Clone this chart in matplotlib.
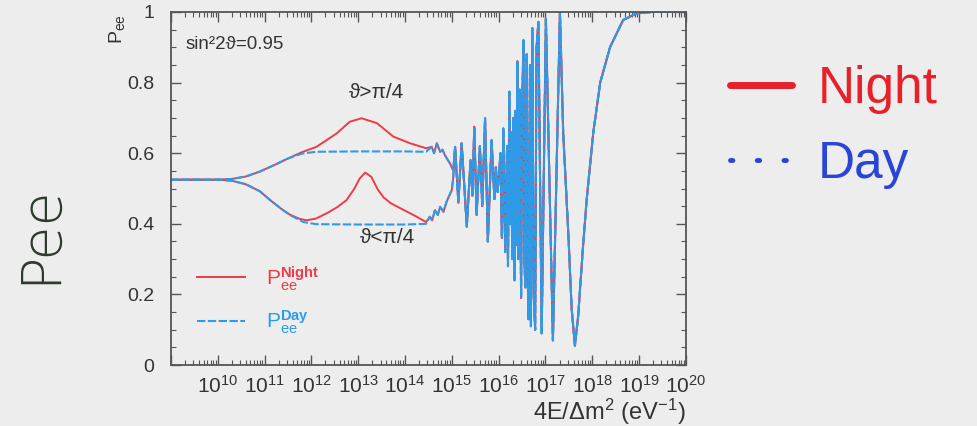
import matplotlib
matplotlib.use("Agg")
import matplotlib.pyplot as plt
import numpy as np
from matplotlib.lines import Line2D
from matplotlib.ticker import LogLocator, MultipleLocator, NullFormatter

plt.rcParams['font.family'] = ['Liberation Sans', 'DejaVu Sans']
plt.rcParams['mathtext.fontset'] = 'custom'
plt.rcParams['mathtext.rm'] = 'Liberation Sans'
plt.rcParams['mathtext.it'] = 'Liberation Sans:italic'
plt.rcParams['mathtext.bf'] = 'Liberation Sans:bold'

# exponents of 4E/dm^2 (eV^-1) and survival probability P_ee
# branch theta > pi/4
up_day_log = [9.0, 10.0, 10.3, 10.6, 10.9, 11.2, 11.5, 11.8, 12.1, 13.0, 14.0, 14.45]
up_day_p = [0.525, 0.525, 0.527, 0.534, 0.548, 0.566, 0.585, 0.599, 0.604, 0.605, 0.605, 0.604]
up_night_log = [9.0, 10.0, 10.3, 10.6, 10.9, 11.2, 11.5, 11.8, 12.11, 12.54, 12.82, 13.07,
                13.4, 13.75, 14.11, 14.45]
up_night_p = [0.525, 0.525, 0.527, 0.534, 0.548, 0.566, 0.585, 0.603, 0.618, 0.656, 0.689, 0.699,
              0.685, 0.647, 0.628, 0.614]
# wiggles where the upper branch joins the common curve
up_join_log = [14.57, 14.62, 14.68, 14.75, 14.80, 14.85, 14.96, 15.03]
up_join_p = [0.618, 0.600, 0.628, 0.604, 0.610, 0.595, 0.571, 0.552]

# branch theta < pi/4
lo_day_log = [9.0, 10.0, 10.3, 10.6, 10.9, 11.12, 11.35, 11.54, 11.83, 12.1, 13.0, 14.0, 14.45]
lo_day_p = [0.525, 0.525, 0.522, 0.512, 0.492, 0.467, 0.443, 0.425, 0.405, 0.399, 0.398, 0.398, 0.400]
lo_night_log = [9.0, 10.0, 10.3, 10.6, 10.9, 11.12, 11.35, 11.54, 11.75, 11.9, 12.1, 12.33, 12.55,
                12.75, 12.92, 13.03, 13.15, 13.28, 13.42, 13.54, 13.7, 13.96, 14.25, 14.45]
lo_night_p = [0.525, 0.525, 0.522, 0.512, 0.492, 0.467, 0.443, 0.426, 0.414, 0.410, 0.415, 0.430, 0.447,
              0.467, 0.500, 0.528, 0.545, 0.533, 0.497, 0.475, 0.458, 0.440, 0.420, 0.405]
lo_join_log = [14.53, 14.58, 14.64, 14.70, 14.75, 14.82, 14.89, 15.00, 15.03]
lo_join_p = [0.420, 0.410, 0.439, 0.425, 0.448, 0.434, 0.463, 0.496, 0.530]

# common oscillating part (same for day and night)
tail_log = [15.07, 15.14, 15.21, 15.32, 15.40, 15.44, 15.48, 15.53, 15.60, 15.65,
            15.71, 15.77, 15.85, 15.91, 15.94, 15.98, 16.04, 16.07, 16.10, 16.14,
            16.18, 16.20, 16.23, 16.25, 16.27, 16.29, 16.31, 16.34, 16.36, 16.38,
            16.40, 16.42, 16.45, 16.48, 16.50, 16.53, 16.55, 16.57, 16.60, 16.62,
            16.64, 16.67, 16.69, 16.72, 16.75, 16.78, 16.81, 16.85, 16.92,
            17.01, 17.16, 17.31, 17.38, 17.49, 17.56, 17.63, 17.70, 17.80, 17.88,
            18.02, 18.17, 18.38, 18.66, 18.95, 19.3, 20.0]
tail_p = [0.618, 0.46, 0.628, 0.392, 0.58, 0.48, 0.675, 0.425, 0.62, 0.45,
          0.699, 0.35, 0.637, 0.47, 0.56, 0.49, 0.60, 0.36, 0.67, 0.32,
          0.62, 0.28, 0.774, 0.40, 0.66, 0.30, 0.70, 0.24, 0.72, 0.34,
          0.86, 0.30, 0.78, 0.19, 0.70, 0.92, 0.30, 0.22, 0.88, 0.25,
          0.13, 0.85, 0.11, 0.954, 0.20, 0.10, 0.90, 0.972, 0.09,
          0.98, 0.07, 1.0, 0.656, 0.37, 0.16, 0.055, 0.14, 0.33, 0.467,
          0.656, 0.80, 0.90, 0.977, 0.996, 1.0, 1.0]

x_labels = [rf'$\mathregular{{10^{{{k}}}}}$' for k in range(10, 21)]
y_ticks = [0, 0.2, 0.4, 0.6, 0.8, 1]

RED = '#ee3b45'
BLUE = '#2d9be8'
BG = '#ededed'


def branch(base_log, base_p, join_log, join_p):
    # glue a branch onto the common oscillating tail
    lg = np.concatenate([base_log, join_log, tail_log])
    p = np.concatenate([base_p, join_p, tail_p])
    return 10.0 ** lg, p


fig = plt.figure(figsize=(9.77, 4.26), dpi=100, facecolor=BG)
ax = fig.add_axes([0.175, 0.143, 0.527, 0.829], facecolor=BG)

x, p = branch(up_night_log, up_night_p, up_join_log, up_join_p)
night_line, = ax.plot(x, p, color=RED, lw=1.4, label=r'$\mathregular{P_{ee}^{\mathbf{Night}}}$')
x, p = branch(lo_night_log, lo_night_p, lo_join_log, lo_join_p)
ax.plot(x, p, color=RED, lw=1.4)
x, p = branch(up_day_log, up_day_p, up_join_log, up_join_p)
day_line, = ax.plot(x, p, color=BLUE, lw=1.5, dashes=(4, 1.2), label=r'$\mathregular{P_{ee}^{\mathbf{Day}}}$')
x, p = branch(lo_day_log, lo_day_p, lo_join_log, lo_join_p)
ax.plot(x, p, color=BLUE, lw=1.5, dashes=(4, 1.2))

ax.set_xscale('log')
ax.set_xlim(1e9, 1e20)
ax.set_ylim(0, 1)
ax.set_xticks([10.0 ** k for k in range(9, 21)], [''] + x_labels)
ax.xaxis.set_minor_locator(LogLocator(base=10, subs=np.arange(2, 10), numticks=30))
ax.xaxis.set_minor_formatter(NullFormatter())
ax.set_yticks(y_ticks, ['0', '0.2', '0.4', '0.6', '0.8', '1'])
ax.yaxis.set_minor_locator(MultipleLocator(0.05))

ax.tick_params(which='both', direction='in', top=True, right=True, color='#555555',
               labelcolor='#333333')
ax.tick_params(which='major', length=7, width=1.0)
ax.tick_params(which='minor', length=3.5, width=0.8)
ax.tick_params(axis='x', pad=7, labelsize=15)
ax.tick_params(axis='y', pad=12, labelsize=14)
for s in ax.spines.values():
    s.set_color('#555555')
    s.set_linewidth(1.3)

ax.set_xlabel(r'4E/$\Delta$m$^{2}$ (eV$^{-1}$)', fontsize=17, loc='right', color='#333333',
              labelpad=0)
ax.set_ylabel(r'$\mathregular{P_{ee}}$', fontsize=14, color='#333333', rotation=90)
ax.yaxis.set_label_coords(-0.085, 0.95)

ax.text(0.028, 0.895, 'sin²2ϑ=0.95', transform=ax.transAxes, fontsize=13.5, color='#333333')
ax.text(0.40, 0.755, 'ϑ>π/4', transform=ax.transAxes, fontsize=15, color='#333333', ha='center')
ax.text(0.42, 0.345, 'ϑ<π/4', transform=ax.transAxes, fontsize=15, color='#333333', ha='center')

leg = ax.legend(handles=[night_line, day_line], loc='lower left', bbox_to_anchor=(0.015, 0.03),
                frameon=False, fontsize=15, handlelength=2.3, handletextpad=1.0,
                labelspacing=0.75)
for t, c in zip(leg.get_texts(), [RED, BLUE]):
    t.set_color(c)

# hand-written annotations around the frame
fig.text(0.041, 0.45, 'Pee', rotation=90, fontsize=40, color='#2c3a2c', ha='center',
         va='center', family='DejaVu Sans', fontweight='light')
hand = [Line2D([], [], color='#e8202a', lw=5, solid_capstyle='round'),
        Line2D([], [], color='#2a45d6', lw=3.5, linestyle=(0, (0.5, 5)),
               dash_capstyle='round')]
fig.legend(handles=hand, labels=['Night', 'Day'], loc='upper left',
           bbox_to_anchor=(0.70, 0.955), frameon=False, fontsize=37,
           handlelength=1.2, handletextpad=0.5, labelspacing=0.5,
           labelcolor=['#e8202a', '#2a45d6'])

fig.savefig('out.png', dpi=100, facecolor=BG)
